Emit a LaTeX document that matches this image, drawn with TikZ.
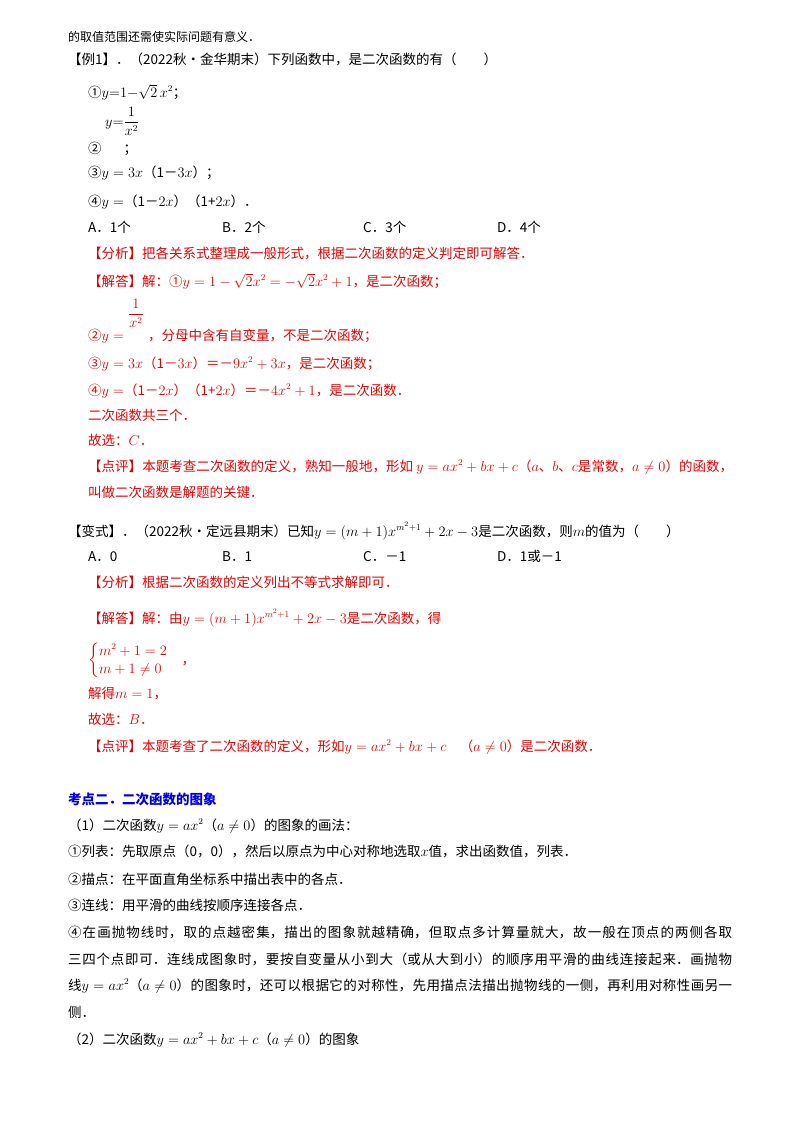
\documentclass[tikz,border=0pt]{standalone}
\usepackage{fontspec}
\usepackage{amsmath}
\setmainfont{Noto Sans CJK SC}
\XeTeXlinebreaklocale "zh"
\XeTeXlinebreakskip=0pt plus 6pt
\definecolor{ansred}{RGB}{230,0,0}
\definecolor{kpblue}{RGB}{0,0,230}
\newcommand{\fullline}[2][664pt]{\parbox[b]{#1}{\parindent=0pt\parfillskip=0pt\relax #2}}
\begin{document}
\begin{tikzpicture}[x=1pt,y=-1pt,
  ln/.style={anchor=base west,inner sep=0pt,font=\fontsize{13.5}{15}\selectfont},
  rd/.style={ln,text=ansred}]
\useasboundingbox (0,0) rectangle (800,1132);
\fill[white] (0,0) rectangle (800,1132);
\node[ln,font=\fontsize{12}{14}\selectfont] (l1) at (68,42) {的取值范围还需使实际问题有意义．};
\node[ln] (l2) at (68,64) {【例1】．（2022秋•金华期末）下列函数中，是二次函数的有（\quad\quad）};
\node[ln] (l3) at (88,97) {①$y{=}1{-}\sqrt{2}\,x^2$；};
\node[ln] (l4a) at (105,126) {$y{=}\dfrac{1}{x^2}$};
\node[ln] (l4) at (88,153) {②\hspace{22pt}；};
\node[ln] (l5) at (88,177) {③$y=3x$（1－$3x$）；};
\node[ln] (l6) at (88,206) {④$y=$（1－$2x$）（1+$2x$）．};
\node[ln] (a1) at (88,232) {A．1个};
\node[ln] (b1) at (222,232) {B．2个};
\node[ln] (c1) at (363,232) {C．3个};
\node[ln] (d1) at (497,232) {D．4个};
\node[rd] (r1) at (88,258) {【分析】把各关系式整理成一般形式，根据二次函数的定义判定即可解答．};
\node[rd] (r2) at (88,286) {【解答】解：①$y=1-\sqrt{2}x^2=-\sqrt{2}x^2+1$，是二次函数；};
\node[rd] (r3a) at (128,318) {$\dfrac{1}{x^2}$};
\node[rd] (r3) at (88,340) {②$y=$\hspace{24pt}，分母中含有自变量，不是二次函数；};
\node[rd] (r4) at (88,368) {③$y=3x$（1－$3x$）＝－$9x^2+3x$，是二次函数；};
\node[rd] (r5) at (88,395) {④$y=$（1－$2x$）（1+$2x$）＝－$4x^2+1$，是二次函数．};
\node[rd] (r6) at (88,420) {二次函数共三个．};
\node[rd] (r7) at (88,445) {故选：$C$．};
\node[rd] (r8) at (88,471) {\fullline[645pt]{【点评】本题考查二次函数的定义，熟知一般地，形如 $y=ax^2+bx+c$（$a$、$b$、$c$是常数，$a\neq0$）的函数，}};
\node[rd] (r9) at (88,497) {叫做二次函数是解题的关键．};
\node[ln] (v1) at (68,536) {【变式】．（2022秋•定远县期末）已知$y=(m+1)x^{m^2+1}+2x-3$是二次函数，则$m$的值为（\quad\quad）};
\node[ln] (a2) at (88,561) {A．0};
\node[ln] (b2) at (222,561) {B．1};
\node[ln] (c2) at (363,561) {C．－1};
\node[ln] (d2) at (497,561) {D．1或－1};
\node[rd] (s1) at (88,587) {【分析】根据二次函数的定义列出不等式求解即可．};
\node[rd] (s2) at (88,623) {【解答】解：由$y=(m+1)x^{m^2+1}+2x-3$是二次函数，得};
\node[rd] (s3) at (88,664) {$\begin{cases}m^2+1=2\\ m+1\neq0\end{cases}$，};
\node[rd] (s4) at (88,698) {解得$m=1$，};
\node[rd] (s5) at (88,724) {故选：$B$．};
\node[rd] (s6) at (88,751) {【点评】本题考查了二次函数的定义，形如$y=ax^2+bx+c$\quad（$a\neq0$）是二次函数．};
\node[ln,text=kpblue,font=\fontsize{13.5}{15}\selectfont\bfseries] (k1) at (68,804) {考点二．二次函数的图象};
\node[ln] (k2) at (68,830) {（1）二次函数$y=ax^2$（$a\neq0$）的图象的画法：};
\node[ln] (k3) at (68,856) {①列表：先取原点（0，0），然后以原点为中心对称地选取$x$值，求出函数值，列表．};
\node[ln] (k4) at (68,884) {②描点：在平面直角坐标系中描出表中的各点．};
\node[ln] (k5) at (68,910) {③连线：用平滑的曲线按顺序连接各点．};
\node[ln] (k6) at (68,937) {\fullline{④在画抛物线时，取的点越密集，描出的图象就越精确，但取点多计算量就大，故一般在顶点的两侧各取}};
\node[ln] (k7) at (68,964) {\fullline{三四个点即可．连线成图象时，要按自变量从小到大（或从大到小）的顺序用平滑的曲线连接起来．画抛物}};
\node[ln] (k8) at (68,990) {\fullline{线$y=ax^2$（$a\neq0$）的图象时，还可以根据它的对称性，先用描点法描出抛物线的一侧，再利用对称性画另一}};
\node[ln] (k9) at (68,1017) {侧．};
\node[ln] (k10) at (68,1044) {（2）二次函数$y=ax^2+bx+c$（$a\neq0$）的图象};
\end{tikzpicture}
\end{document}
